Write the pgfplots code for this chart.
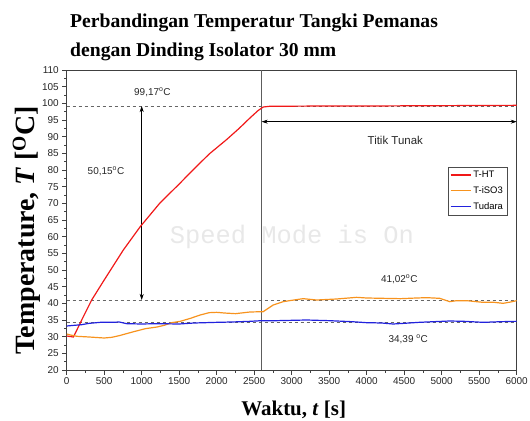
\documentclass[border=0pt]{standalone}
\usepackage{pgfplots}
\pgfplotsset{compat=1.18}
\usepackage{fontspec}
\setmainfont{Liberation Serif}
\setsansfont{Liberation Sans}
\newfontfamily\monofont{Liberation Mono}
\usetikzlibrary{arrows.meta}
\definecolor{cred}{HTML}{F01818}
\definecolor{corange}{HTML}{F7931E}
\definecolor{cblue}{HTML}{2222DD}
\definecolor{framec}{HTML}{404040}
\begin{document}
\begin{tikzpicture}
\useasboundingbox (-66.7bp,-51bp) rectangle (463.3bp,370bp);
\begin{axis}[
  at={(0,0)}, anchor=south west,
  scale only axis, width=450bp, height=300bp,
  xmin=0, xmax=6000, ymin=20, ymax=110,
  xtick={0,500,...,6000}, ytick={20,25,...,110},
  minor x tick num=1, minor y tick num=1,
  tick align=outside, tick pos=left,
  major tick length=4.5bp, minor tick length=2.5bp,
  axis line style={framec, line width=0.8bp},
  every tick/.style={framec, line width=0.7bp},
  scaled x ticks=false,
  xticklabel style={/pgf/number format/1000 sep={}},
  /pgf/number format/assume math mode=true,
  tick label style={font=\sffamily\fontsize{10}{12}\selectfont, text=black!85},
  legend style={at={(0.847,0.677)}, anchor=north west, draw=black!70,
    font=\sffamily\fontsize{9.5}{11}\selectfont, inner sep=2bp,
    row sep=3.5bp},
  legend cell align=left,
  legend image code/.code={\draw[#1, line width=1.3bp] (0bp,0bp) -- (20bp,0bp);},
]
% reference lines
\addplot[forget plot, black!60, line width=0.6bp, dash pattern=on 3bp off 3bp] coordinates {(0,99.17) (6000,99.17)};
\addplot[forget plot, black!60, line width=0.6bp, dash pattern=on 3bp off 3bp] coordinates {(0,41.02) (6000,41.02)};
\addplot[forget plot, black!60, line width=0.6bp, dash pattern=on 3bp off 3bp] coordinates {(0,34.39) (6000,34.39)};
\addplot[forget plot, framec!85, line width=0.8bp] coordinates {(2600,20) (2600,110)};
\addplot[forget plot, black, line width=0.6bp, {Stealth[length=6bp,width=4bp]}-{Stealth[length=6bp,width=4bp]}] coordinates {(1000,41.02) (1000,99.17)};
\addplot[forget plot, black, line width=0.6bp, {Stealth[length=6bp,width=4bp]}-{Stealth[length=6bp,width=4bp]}] coordinates {(2600,94.5) (6000,94.5)};

\node[text=black!9, font=\monofont\fontsize{25.5}{26}\selectfont] at (axis cs:3003,59.9) {Speed Mode is On};

% data
\addplot[cred, line width=1.2bp] coordinates {
(0,30.2) (90,29.9) (200,35) (333,41) (500,47) (755,56) (977,62.9) (1243,70.1)
(1500,75.8) (1683,80) (1900,84.8) (2136,89.2) (2300,92.5) (2443,95.6) (2550,97.8)
(2620,98.9) (2700,99.1) (3000,99.15) (3500,99.2) (4000,99.2) (4500,99.25) (5000,99.3) (5500,99.35) (6000,99.4)};
\addlegendentry{T-HT}
\addplot[corange, line width=1.2bp] coordinates {
(0,30.8) (50,30.5) (140,30.1) (300,29.9) (500,29.6) (600,29.8) (700,30.3) (894,31.5)
(1050,32.4) (1204,32.9) (1300,33.4) (1400,34.2) (1514,34.6) (1650,35.5) (1780,36.5)
(1900,37.2) (2001,37.3) (2100,37.1) (2250,36.9) (2443,37.4) (2620,37.5) (2753,39.5)
(2886,40.5) (3000,40.9) (3153,41.4) (3331,41.0) (3600,41.3) (3864,41.8) (4000,41.6)
(4220,41.5) (4450,41.4) (4664,41.6) (4800,41.7) (4975,41.5) (5108,40.5) (5200,40.8)
(5330,40.8) (5552,40.3) (5700,40.3) (5819,40.0) (5920,40.4) (6000,40.8)};
\addlegendentry{T-iSO3}
\addplot[cblue, line width=1.2bp] coordinates {
(0,33.2) (100,33.4) (200,33.6) (300,34.0) (450,34.3) (600,34.3) (700,34.4) (800,33.9)
(1000,33.8) (1200,33.9) (1500,33.8) (1700,34.1) (2000,34.3) (2200,34.4) (2442,34.6)
(2600,34.8) (2800,34.8) (3197,35.0) (3500,34.8) (3800,34.5) (3996,34.2) (4200,34.1)
(4352,33.8) (4500,34.0) (4700,34.3) (4900,34.5) (5108,34.7) (5300,34.6) (5552,34.3)
(5800,34.5) (6000,34.6)};
\addlegendentry{Tudara}

\node[font=\sffamily\fontsize{10}{12}\selectfont, text=black!85] at (axis cs:1143,103.4) {99,17\textsuperscript{o}C};
\node[font=\sffamily\fontsize{10}{12}\selectfont, text=black!85] at (axis cs:524,79.7) {50,15\textsuperscript{o}C};
\node[font=\sffamily\fontsize{11.5}{13}\selectfont, text=black!85] at (axis cs:4381,89.0) {Titik Tunak};
\node[font=\sffamily\fontsize{10}{12}\selectfont, text=black!85] at (axis cs:4434,47.3) {41,02\textsuperscript{o}C};
\node[font=\sffamily\fontsize{10}{12}\selectfont, text=black!85] at (axis cs:4554,29.3) {34,39 \textsuperscript{o}C};
\end{axis}
\node[anchor=base west, font=\bfseries\fontsize{19.7}{22}\selectfont] at (0bp,342bp) {Perbandingan Temperatur Tangki Pemanas};
\node[anchor=base west, font=\bfseries\fontsize{19.7}{22}\selectfont] at (0bp,313bp) {dengan Dinding Isolator 30 mm};
\node[anchor=base, font=\bfseries\fontsize{21}{24}\selectfont] at (227bp,-45bp) {Waktu, \textit{t} [s]};
\node[rotate=90, font=\bfseries\fontsize{28}{30}\selectfont] at (-40bp,140bp) {Temperature, \textit{T} [\textsuperscript{O}C]};
\end{tikzpicture}
\end{document}
